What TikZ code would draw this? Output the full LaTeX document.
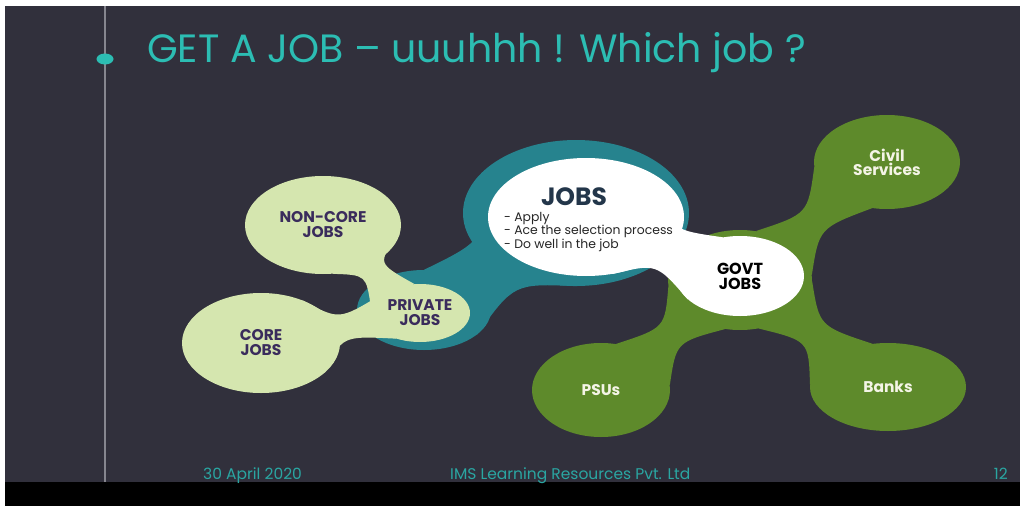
\documentclass[tikz,border=0pt]{standalone}
\usepackage{fontspec}
\setmainfont{Poppins}
\usetikzlibrary{positioning,shapes.geometric,calc}
\definecolor{bgdark}{HTML}{31303C}
\definecolor{tealring}{HTML}{26838E}
\definecolor{lightleaf}{HTML}{D5E6AF}
\definecolor{leaf}{HTML}{5E8A2B}
\definecolor{titlecyan}{HTML}{2CBDB3}
\definecolor{footcyan}{HTML}{2AA6A2}
\definecolor{plum}{HTML}{3A2C5C}
\definecolor{navy}{HTML}{23364A}
\definecolor{rulegray}{HTML}{86868F}
\definecolor{cream}{HTML}{F4F4E6}
\pgfdeclarelayer{frame}
\pgfdeclarelayer{bottom}
\pgfdeclarelayer{back}
\pgfsetlayers{frame,bottom,back,main}

% neck between two blobs: colour, from, to, spread angle, bulge (pt)
\newcommand{\neck}[5]{%
  \fill[#1] let \p1=(#2.center), \p2=(#3.center),
      \n1={atan2(\y2-\y1,\x2-\x1)}, \n2={\n1+#4}, \n3={\n1-#4},
      \n4={\n1+180-#4}, \n5={\n1+180+#4} in
    (#2.\n2) .. controls ($(#2.center)!0.5!(#3.center)!#5pt!90:(#3.center)$) .. (#3.\n4)
    -- (#3.\n5) .. controls ($(#2.center)!0.5!(#3.center)!#5pt!-90:(#3.center)$) .. (#2.\n3) -- cycle;}

\begin{document}
\begin{tikzpicture}[x=1pt,y=-1pt,
    blob/.style={ellipse, inner sep=0pt, align=center},
    tealblob/.style={blob, fill=tealring},
    lightblob/.style={blob, fill=lightleaf, text=plum,
      font=\bfseries\fontsize{15.5}{15}\selectfont},
    leafblob/.style={blob, fill=leaf, text=cream,
      font=\bfseries\fontsize{15.5}{14}\selectfont},
    whiteblob/.style={blob, fill=white, text=black,
      font=\bfseries\fontsize{16}{15}\selectfont},
    foot/.style={text=footcyan, inner sep=0pt, font=\fontsize{15.5}{15}\selectfont}]
  \useasboundingbox (0,0) rectangle (1020,506);

  %Frame
  \begin{pgfonlayer}{frame}
    \fill[white] (0,0) rectangle (1020,506);
    \fill[bgdark] (5,6) rectangle (1020,482);
    \fill[black] (5,482) rectangle (1020,506);
  \end{pgfonlayer}
  \draw[rulegray, line width=1.6pt] (105,6) -- (105,482);
  \node[ellipse, fill=titlecyan, inner sep=0pt, minimum width=17, minimum height=11] at (105,59) (dot) {};

  %Title
  \node[anchor=base west, inner sep=0pt, text=titlecyan, font=\fontsize{39.5}{40}\selectfont]
    at (147,62) (title) {GET A JOB – uuuhhh ! Which job ?};

  %Rings
  \begin{pgfonlayer}{bottom}
    \node[tealblob, minimum width=226, minimum height=146] at (576,213) (jobsbg) {};
    \node[tealblob, minimum width=134, minimum height=80] at (424,310) (privbg) {};
    \node[blob, fill=leaf, minimum width=144, minimum height=100] at (740,280) (govtbg) {};
    \neck{tealring}{jobsbg}{privbg}{58}{26}
  \end{pgfonlayer}

  %Nodes
  \node[lightblob, minimum width=100, minimum height=58] at (420,313) (priv) {PRIVATE\\JOBS};
  \node[lightblob, minimum width=156, minimum height=98] at (323,225) (noncore) {NON-CORE\\JOBS};
  \node[lightblob, minimum width=158, minimum height=100] at (261,343) (core) {CORE\\JOBS};

  \node[leafblob, minimum width=146, minimum height=94] at (887,162) (civil) {Civil\\Services};
  \node[leafblob, minimum width=138, minimum height=94] at (601,390) (psus) {PSUs};
  \node[leafblob, minimum width=156, minimum height=88] at (888,387) (banks) {Banks};

  \node[whiteblob, minimum width=196, minimum height=118] at (586,217) (jobs) {};
  \node[whiteblob, minimum width=128, minimum height=80] at (740,276) (govt) {GOVT\\JOBS};

  \node[inner sep=0pt, text=navy, font=\bfseries\fontsize{25}{25}\selectfont] at (574,197) (jobshead) {JOBS};
  \node[anchor=north west, align=left, inner sep=0pt, text=black!85,
    font=\fontsize{12.4}{13.5}\selectfont] at (504,212) (steps)
    {- Apply\\- Ace the selection process\\- Do well in the job};

  %Necks
  \begin{pgfonlayer}{back}
    \neck{lightleaf}{priv}{noncore}{36}{8}
    \neck{lightleaf}{priv}{core}{36}{8}
    \neck{leaf}{govtbg}{civil}{34}{9}
    \neck{leaf}{govtbg}{psus}{34}{9}
    \neck{leaf}{govtbg}{banks}{34}{9}
    \neck{white}{jobs}{govt}{45}{18}
  \end{pgfonlayer}

  %Footer
  \node[foot, anchor=base west] at (203,479) (date) {30 April 2020};
  \node[foot, anchor=base west] at (450,479) (firm) {IMS Learning Resources Pvt. Ltd};
  \node[foot, anchor=base east] at (1008,479) (page) {12};
\end{tikzpicture}
\end{document}
